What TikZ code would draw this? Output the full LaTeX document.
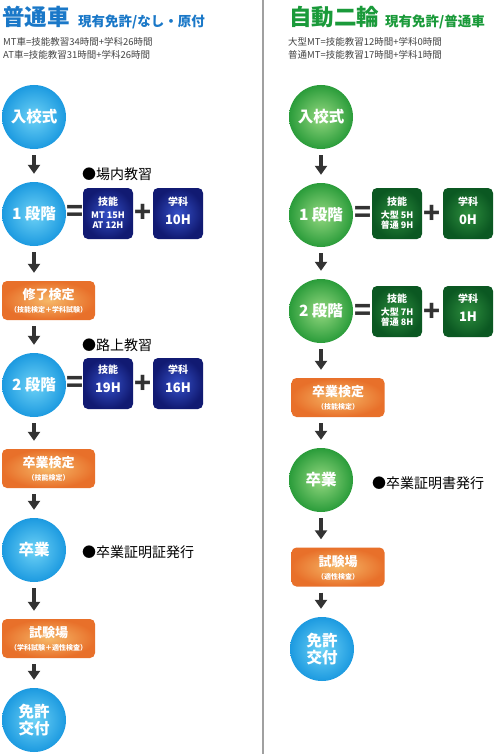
\documentclass[tikz,border=0pt]{standalone}
\usepackage{fontspec}
\setmainfont{Noto Sans CJK JP}
\usetikzlibrary{arrows.meta}
\definecolor{tblue}{HTML}{1A78C8}
\definecolor{tgreen}{HTML}{1A9A3A}
\definecolor{bcin}{HTML}{6ED2F6}
\definecolor{bcout}{HTML}{1C9AE0}
\definecolor{gcin}{HTML}{94D880}
\definecolor{gcout}{HTML}{2A9C3A}
\definecolor{dbin}{HTML}{3550C8}
\definecolor{dbout}{HTML}{111A72}
\definecolor{dgin}{HTML}{2E8E3E}
\definecolor{dgout}{HTML}{0B5822}
\definecolor{oin}{HTML}{F6B868}
\definecolor{oout}{HTML}{E8702A}
\definecolor{arrc}{HTML}{333333}
\definecolor{divc}{HTML}{A0A0A0}
\definecolor{smallc}{HTML}{444444}
\tikzset{
  bcirc/.style={circle, minimum size=64pt, inner sep=0pt, shading=radial, inner color=bcin, outer color=bcout, text=white, font=\bfseries\fontsize{15.5}{17}\selectfont, align=center},
  gcirc/.style={bcirc, inner color=gcin, outer color=gcout},
  dbbox/.style={rectangle, rounded corners=5pt, minimum width=50pt, minimum height=51pt, inner sep=0pt, shading=radial, inner color=dbin, outer color=dbout},
  dgbox/.style={dbbox, inner color=dgin, outer color=dgout},
  obox/.style={rectangle, rounded corners=5pt, minimum width=93pt, minimum height=39pt, inner sep=0pt, shading=radial, inner color=oin, outer color=oout},
  wt/.style={text=white, inner sep=0pt, font=\bfseries\fontsize{#1}{#1}\selectfont},
  flow/.style={draw=arrc, line width=3.5pt, -{Triangle[width=12pt,length=9pt]}, shorten <=6pt, shorten >=8pt},
  sym/.style={text=arrc, inner sep=0pt, font=\bfseries\fontsize{28}{28}\selectfont},
  note/.style={anchor=west, inner sep=0pt, text=black, font=\fontsize{14}{14}\selectfont},
  small/.style={anchor=west, inner sep=0pt, text=smallc, font=\fontsize{9.5}{10}\selectfont},
}
\begin{document}
\begin{tikzpicture}[x=1pt,y=-1pt]
\useasboundingbox (0,0) rectangle (495,754);
\fill[white] (0,0) rectangle (495,754);
\draw[divc, line width=1.5pt] (263,0) -- (263,754);

% ---------- left titles ----------
\node[anchor=base west, inner sep=0pt, text=tblue, font=\bfseries\fontsize{22.5}{22}\selectfont] (t1) at (2,26) {普通車};
\node[anchor=base west, inner sep=0pt, text=tblue, font=\bfseries\fontsize{13.5}{13}\selectfont] (t1b) at (78,26.5) {現有免許/なし・原付};
\node[small] (l1) at (3,42) {MT車=技能教習34時間+学科26時間};
\node[small] (l2) at (3,55) {AT車=技能教習31時間+学科26時間};

% ---------- left flow ----------
\node[bcirc] (a1) at (34,117) {入校式};
\node[bcirc] (a2) at (34,214) {1 段階};
\node[dbbox] (a2s) at (108,213.5) {};
\node[wt=10] (a2s1) at (108,202) {技能};
\node[wt=9] (a2s2) at (108,215) {MT 15H};
\node[wt=9] (a2s3) at (108,225.5) {AT 12H};
\node[dbbox] (a2g) at (178,213.5) {};
\node[wt=10] (a2g1) at (178,202) {学科};
\node[wt=13] (a2g2) at (178,220) {10H};
\node[sym] (a2e) at (75,213) {=};
\node[sym] (a2p) at (143.5,213) {+};
\node[note] (n1) at (82,174) {●場内教習};

\node[obox] (a3) at (48.5,300.5) {};
\node[wt=13] (a3a) at (48.5,295) {修了検定};
\node[wt=7] (a3b) at (48.5,310) {（技能検定＋学科試験）};

\node[bcirc] (a4) at (34,385) {2 段階};
\node[dbbox] (a4s) at (108,383.5) {};
\node[wt=10] (a4s1) at (108,370) {技能};
\node[wt=13] (a4s2) at (108,388) {19H};
\node[dbbox] (a4g) at (178,383.5) {};
\node[wt=10] (a4g1) at (178,370) {学科};
\node[wt=13] (a4g2) at (178,388) {16H};
\node[sym] (a4e) at (75,384) {=};
\node[sym] (a4p) at (143.5,384) {+};
\node[note] (n2) at (82,345) {●路上教習};

\node[obox] (a5) at (48.5,468.5) {};
\node[wt=13] (a5a) at (48.5,463) {卒業検定};
\node[wt=7] (a5b) at (48.5,478) {（技能検定）};

\node[bcirc] (a6) at (34,550) {卒業};
\node[note] (n3) at (82,552) {●卒業証明証発行};

\node[obox] (a7) at (48.5,638.5) {};
\node[wt=13] (a7a) at (48.5,633) {試験場};
\node[wt=7] (a7b) at (48.5,648) {（学科試験＋適性検査）};

\node[bcirc, font=\bfseries\fontsize{15.5}{16.5}\selectfont] (a8) at (34,720) {免許\\交付};

\draw[flow] (a1) -- (a2);
\draw[flow] (a2) -- (a3.north -| a2);
\draw[flow] (a3.south -| a2) -- (a4);
\draw[flow] (a4) -- (a5.north -| a4);
\draw[flow] (a5.south -| a4) -- (a6);
\draw[flow] (a6) -- (a7.north -| a6);
\draw[flow] (a7.south -| a6) -- (a8);

% ---------- right titles ----------
\node[anchor=base west, inner sep=0pt, text=tgreen, font=\bfseries\fontsize{22.5}{22}\selectfont] (t2) at (289,26) {自動二輪};
\node[anchor=base west, inner sep=0pt, text=tgreen, font=\bfseries\fontsize{13.5}{13}\selectfont] (t2b) at (385,26.5) {現有免許/普通車};
\node[small] (r1) at (288,42) {大型MT=技能教習12時間+学科0時間};
\node[small] (r2) at (288,55) {普通MT=技能教習17時間+学科1時間};

% ---------- right flow ----------
\node[gcirc] (b1) at (321,117) {入校式};
\node[gcirc] (b2) at (321,215) {1 段階};
\node[dgbox] (b2s) at (397,213.5) {};
\node[wt=10] (b2s1) at (397,202) {技能};
\node[wt=9] (b2s2) at (397,215) {大型 5H};
\node[wt=9] (b2s3) at (397,225.5) {普通 9H};
\node[dgbox] (b2g) at (468,213.5) {};
\node[wt=10] (b2g1) at (468,202) {学科};
\node[wt=13] (b2g2) at (468,220) {0H};
\node[sym] (b2e) at (363,214) {=};
\node[sym] (b2p) at (432.5,214) {+};

\node[gcirc] (b3) at (321,311) {2 段階};
\node[dgbox] (b3s) at (397,311.5) {};
\node[wt=10] (b3s1) at (397,299) {技能};
\node[wt=9] (b3s2) at (397,312) {大型 7H};
\node[wt=9] (b3s3) at (397,322.5) {普通 8H};
\node[dgbox] (b3g) at (468,311.5) {};
\node[wt=10] (b3g1) at (468,299) {学科};
\node[wt=13] (b3g2) at (468,317) {1H};
\node[sym] (b3e) at (363,312) {=};
\node[sym] (b3p) at (432.5,312) {+};

\node[obox] (b4) at (338,397.5) {};
\node[wt=13] (b4a) at (338,392) {卒業検定};
\node[wt=7] (b4b) at (338,407) {（技能検定）};

\node[gcirc] (b5) at (321,480) {卒業};
\node[note] (n4) at (372,483) {●卒業証明書発行};

\node[obox] (b6) at (338,567) {};
\node[wt=13] (b6a) at (338,561.5) {試験場};
\node[wt=7] (b6b) at (338,576.5) {（適性検査）};

\node[bcirc, font=\bfseries\fontsize{15.5}{16.5}\selectfont] (b7) at (322,649) {免許\\交付};

\draw[flow] (b1) -- (b2);
\draw[flow] (b2) -- (b3);
\draw[flow] (b3) -- (b4.north -| b3);
\draw[flow] (b4.south -| b3) -- (b5);
\draw[flow] (b5) -- (b6.north -| b5);
\draw[flow] (b6.south -| b5) -- (b7.north -| b5);
\end{tikzpicture}
\end{document}
